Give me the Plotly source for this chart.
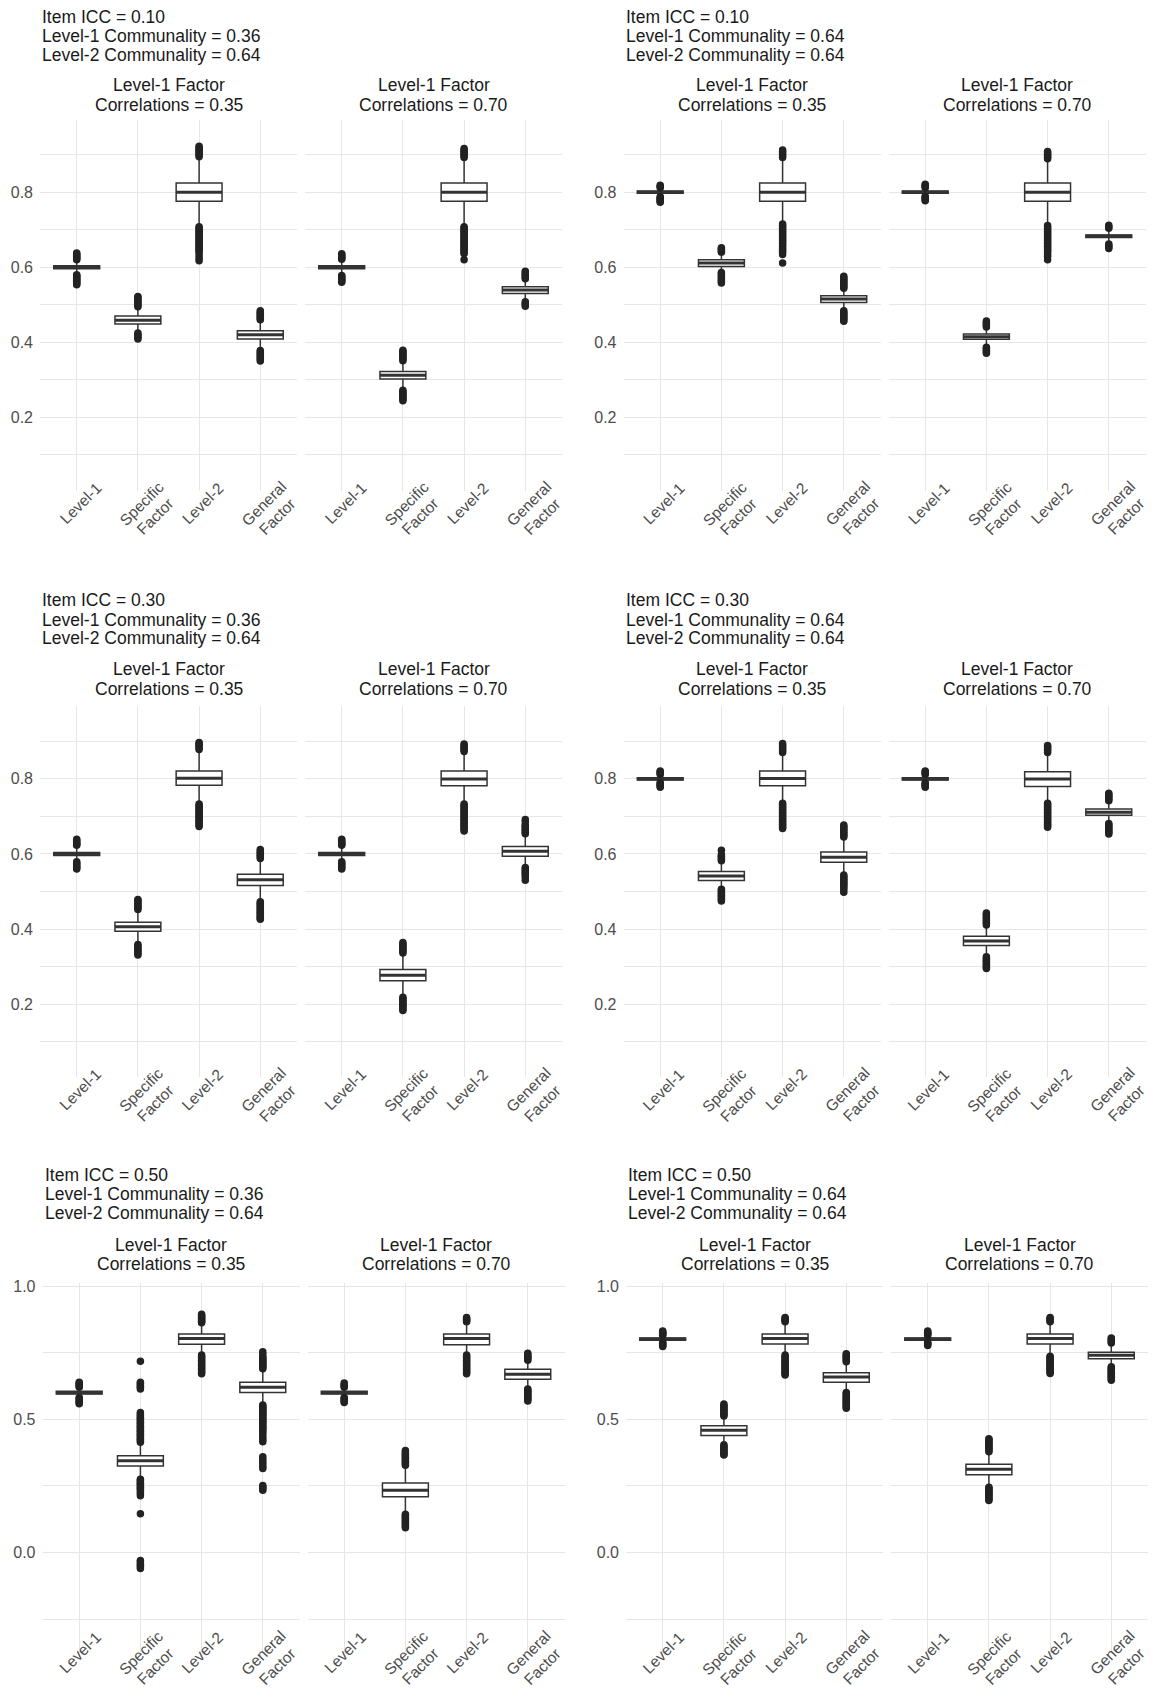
import plotly.graph_objects as go

# ---------------- data ----------------
CATEGORIES = ["Level-1", "Specific Factor", "Level-2", "General Factor"]
TICK_LABELS = ["Level-1", "Specific<br>Factor", "Level-2", "General<br>Factor"]

# six panels: (row, col) order A B / C D / E F
ITEM_ICC = ["0.10", "0.10", "0.30", "0.30", "0.50", "0.50"]
L1_COMMUNALITY = ["0.36", "0.64", "0.36", "0.64", "0.36", "0.64"]
L2_COMMUNALITY = ["0.64", "0.64", "0.64", "0.64", "0.64", "0.64"]
FACTOR_CORR = ["0.35", "0.70"]

Y_TICKS_ROW = [[0.2, 0.4, 0.6, 0.8], [0.2, 0.4, 0.6, 0.8], [0.0, 0.5, 1.0]]

# facet order: panel A corr .35, A .70, B .35, B .70, ... F .70
LOWER = [
    [0.585, 0.432, 0.712, 0.385], [0.585, 0.276, 0.712, 0.513],
    [0.791, 0.592, 0.720, 0.488], [0.791, 0.392, 0.715, 0.668],
    [0.585, 0.362, 0.737, 0.476], [0.585, 0.222, 0.737, 0.568],
    [0.791, 0.510, 0.738, 0.550], [0.791, 0.330, 0.738, 0.688],
    [0.588, 0.280, 0.745, 0.560], [0.588, 0.150, 0.745, 0.620],
    [0.793, 0.410, 0.745, 0.605], [0.793, 0.255, 0.745, 0.705],
]
Q1 = [
    [0.596, 0.449, 0.776, 0.409], [0.596, 0.302, 0.776, 0.530],
    [0.797, 0.602, 0.776, 0.506], [0.797, 0.408, 0.776, 0.679],
    [0.596, 0.394, 0.783, 0.516], [0.596, 0.262, 0.782, 0.594],
    [0.797, 0.529, 0.782, 0.578], [0.797, 0.356, 0.780, 0.703],
    [0.595, 0.325, 0.782, 0.601], [0.595, 0.209, 0.780, 0.650],
    [0.797, 0.439, 0.783, 0.639], [0.797, 0.292, 0.783, 0.727],
]
MEDIAN = [
    [0.600, 0.459, 0.800, 0.420], [0.600, 0.312, 0.800, 0.539],
    [0.800, 0.611, 0.800, 0.515], [0.800, 0.415, 0.800, 0.683],
    [0.600, 0.406, 0.802, 0.531], [0.600, 0.277, 0.800, 0.607],
    [0.800, 0.541, 0.801, 0.591], [0.800, 0.368, 0.800, 0.711],
    [0.600, 0.344, 0.803, 0.620], [0.600, 0.234, 0.803, 0.669],
    [0.801, 0.459, 0.803, 0.659], [0.801, 0.312, 0.803, 0.740],
]
Q3 = [
    [0.604, 0.470, 0.824, 0.431], [0.604, 0.322, 0.824, 0.548],
    [0.803, 0.620, 0.824, 0.524], [0.803, 0.422, 0.824, 0.686],
    [0.604, 0.418, 0.821, 0.546], [0.604, 0.292, 0.821, 0.620],
    [0.803, 0.553, 0.821, 0.605], [0.803, 0.381, 0.819, 0.720],
    [0.605, 0.363, 0.820, 0.639], [0.605, 0.261, 0.820, 0.688],
    [0.805, 0.476, 0.820, 0.675], [0.805, 0.331, 0.820, 0.752],
]
UPPER = [
    [0.616, 0.490, 0.890, 0.455], [0.616, 0.347, 0.888, 0.565],
    [0.809, 0.636, 0.888, 0.540], [0.809, 0.436, 0.886, 0.700],
    [0.616, 0.450, 0.875, 0.585], [0.616, 0.333, 0.870, 0.650],
    [0.809, 0.578, 0.867, 0.640], [0.809, 0.405, 0.866, 0.735],
    [0.612, 0.410, 0.858, 0.685], [0.612, 0.323, 0.860, 0.715],
    [0.810, 0.505, 0.858, 0.710], [0.810, 0.370, 0.860, 0.780],
]

OUTLIERS = [
    [  # A .35
        [.620, .623, .626, .629, .632, .635, .638, .580, .577, .574, .571, .568, .565, .562, .559, .556, .553],
        [.495, .499, .503, .507, .511, .515, .519, .522, .425, .421, .417, .413, .409],
        [.894, .898, .902, .906, .910, .914, .918, .922, .708, .704, .700, .696, .692, .688, .684, .680, .676,
         .672, .668, .664, .660, .656, .652, .648, .644, .640, .632, .624, .617],
        [.460, .464, .468, .472, .476, .480, .484, .378, .374, .370, .366, .362, .358, .354, .350],
    ],
    [  # A .70
        [.621, .624, .627, .630, .633, .636, .578, .575, .572, .569, .566, .563, .560],
        [.351, .355, .359, .363, .367, .371, .375, .379, .272, .268, .264, .260, .256, .252, .248, .244],
        [.892, .896, .900, .904, .908, .912, .916, .708, .704, .700, .696, .692, .688, .684, .680, .676, .672,
         .668, .664, .660, .656, .652, .648, .644, .640, .636, .620],
        [.569, .573, .577, .581, .585, .589, .508, .504, .500, .496],
    ],
    [  # B .35
        [.812, .815, .818, .788, .785, .782, .779, .776, .773],
        [.640, .643, .646, .649, .652, .586, .582, .578, .574, .570, .566, .562, .558],
        [.892, .896, .900, .904, .908, .912, .715, .711, .707, .703, .699, .695, .691, .687, .683, .679, .675,
         .671, .667, .663, .659, .655, .650, .645, .640, .634, .611],
        [.544, .548, .552, .556, .560, .564, .568, .572, .576, .484, .480, .476, .472, .468, .464, .460, .456],
    ],
    [  # B .70
        [.812, .815, .818, .821, .789, .786, .783, .780, .777],
        [.441, .445, .449, .453, .457, .387, .383, .379, .375, .371],
        [.889, .893, .897, .901, .905, .908, .711, .707, .703, .699, .695, .691, .687, .683, .679, .675, .671,
         .667, .663, .659, .655, .651, .647, .643, .639, .634, .629, .620],
        [.704, .708, .712, .662, .658, .654, .650],
    ],
    [  # C .35
        [.623, .626, .629, .632, .636, .639, .579, .575, .571, .567, .563, .560],
        [.452, .456, .460, .464, .468, .472, .476, .479, .359, .355, .351, .347, .343, .339, .335, .331],
        [.878, .882, .886, .890, .894, .897, .733, .729, .725, .721, .717, .713, .709, .705, .701, .697, .693,
         .689, .685, .681, .677, .673],
        [.588, .592, .596, .600, .604, .608, .612, .473, .469, .465, .461, .457, .453, .449, .445, .441, .437,
         .433, .429, .426],
    ],
    [  # C .70
        [.623, .626, .629, .632, .636, .639, .579, .575, .571, .567, .563, .560],
        [.336, .340, .344, .348, .352, .356, .360, .364, .218, .214, .210, .206, .202, .198, .194, .190, .186, .183],
        [.873, .877, .881, .885, .889, .893, .733, .729, .725, .721, .717, .713, .709, .705, .701, .697, .693,
         .689, .685, .681, .677, .673, .669, .665, .661],
        [.654, .658, .662, .666, .670, .674, .678, .686, .692, .564, .560, .556, .552, .548, .544, .538, .530],
    ],
    [  # D .35
        [.812, .815, .818, .821, .790, .787, .784, .781, .778],
        [.582, .586, .590, .594, .598, .610, .506, .502, .498, .494, .490, .486, .482, .478, .475],
        [.870, .874, .878, .882, .886, .890, .894, .735, .731, .727, .723, .719, .715, .711, .707, .703, .699,
         .695, .691, .687, .683, .679, .675, .671, .668],
        [.645, .649, .653, .657, .661, .665, .669, .673, .677, .544, .540, .536, .532, .528, .524, .520, .516,
         .511, .505, .498],
    ],
    [  # D .70
        [.812, .815, .818, .821, .790, .787, .784, .781, .778],
        [.411, .415, .419, .423, .427, .431, .435, .439, .443, .326, .322, .318, .314, .310, .306, .302, .298, .295],
        [.870, .874, .878, .882, .886, .889, .735, .731, .727, .723, .719, .715, .711, .707, .703, .699, .695,
         .691, .687, .683, .679, .675, .671],
        [.742, .746, .750, .754, .758, .762, .681, .677, .673, .669, .665, .661, .657, .653],
    ],
    [  # E .35
        [.620, .625, .630, .635, .639, .582, .577, .572, .567, .562, .558],
        [.414, .419, .424, .429, .434, .439, .444, .449, .454, .459, .464, .469, .474, .479, .484, .489, .494,
         .499, .504, .509, .514, .520, .525, .614, .619, .624, .629, .634, .639, .718, .275, .270, .265, .260,
         .255, .250, .245, .240, .235, .228, .221, .213, .145, -.030, -.036, -.042, -.048, -.054, -.060],
        [.862, .866, .870, .874, .878, .882, .886, .890, .894, .741, .736, .731, .726, .721, .716, .711, .706,
         .701, .696, .691, .686, .681, .676, .671],
        [.690, .695, .700, .705, .710, .715, .720, .725, .730, .735, .745, .754, .554, .549, .544, .539, .534,
         .529, .524, .519, .514, .509, .504, .499, .494, .489, .483, .476, .470, .465, .458, .450, .441, .432,
         .423, .416, .359, .350, .341, .332, .323, .315, .251, .246, .240, .234],
    ],
    [  # E .70
        [.620, .625, .630, .636, .582, .577, .572, .567, .563],
        [.327, .332, .337, .342, .347, .352, .357, .362, .367, .372, .377, .383, .143, .138, .133, .128, .123,
         .118, .113, .108, .103, .098, .093],
        [.866, .870, .874, .878, .882, .741, .736, .731, .726, .721, .716, .711, .706, .701, .696, .691, .686,
         .681, .676, .671],
        [.722, .727, .732, .737, .742, .748, .614, .609, .604, .599, .594, .589, .584, .579, .574, .569],
    ],
    [  # F .35
        [.815, .819, .823, .827, .831, .789, .785, .781, .777, .773],
        [.512, .517, .522, .527, .532, .537, .542, .547, .552, .557, .404, .399, .394, .389, .384, .379, .374,
         .369, .366],
        [.866, .870, .874, .878, .882, .741, .736, .731, .726, .721, .716, .711, .706, .701, .696, .691, .686,
         .681, .676, .671, .666],
        [.716, .721, .726, .731, .736, .741, .746, .601, .596, .591, .586, .581, .576, .571, .566, .561, .556,
         .551, .546, .541],
    ],
    [  # F .70
        [.815, .819, .823, .827, .831, .789, .785, .781, .777],
        [.378, .383, .388, .393, .398, .403, .408, .413, .418, .423, .427, .245, .240, .235, .230, .225, .220,
         .215, .210, .205, .200, .195],
        [.866, .870, .874, .878, .882, .737, .732, .727, .722, .717, .712, .707, .702, .697, .692, .687, .682,
         .677, .672],
        [.786, .791, .796, .801, .805, .697, .692, .687, .682, .677, .672, .667, .662, .657, .652, .647],
    ],
]

# ---------------- layout constants (page pixels) ----------------
PAGE_W, PAGE_H = 1156, 1697
BODY = 8                      # default body margin of the html page
W, H = PAGE_W - 2 * BODY, PAGE_H - 2 * BODY
FONT = "Liberation Sans, Arial, Helvetica, sans-serif"
GRID = "#E6E6E6"
INK = "#333333"
PANEL_W, GAP = 257.0, 8.0
COL_LEFT = [40.0, 623.5]
ROW_SHIFT = [0.0, 0.0, 2.5]
ROW_TOP = [115.0, 703.5, 1281.7]
ROW_BOTTOM = [487.0, 1075.5, 1651.7]
Y_RANGES = [[0.005, 0.993], [0.005, 0.993], [-0.373, 1.012]]
Y_MINOR = [0.1, 0.1, 0.25]
TITLE_Y = [[15.7, 35.0, 53.4], [600.7, 620.1, 638.7], [1176.6, 1196.0, 1215.5]]
STRIP_Y = [[83.8, 103.4], [669.9, 689.5], [1247.0, 1266.4]]
TEXT_NUDGE = -3.5
BOX_W = 0.75
XLAB_GAP = [12.5, 12.5, 1.0]
XLAB_SHIFT = [3.5, 3.5, 1.0]
XLAB_LINE = 13.4   # per-line offset along the rotated direction

fig = go.Figure()
layout = dict(
    width=W, height=H, autosize=False,
    margin=dict(l=0, r=0, t=0, b=0, pad=0),
    paper_bgcolor="white", plot_bgcolor="white",
    showlegend=False, font=dict(family=FONT),
)
annotations = []


def px_x(v):
    return (v - BODY) / W


def px_y(v):
    return 1 - (v - BODY) / H


for k in range(12):
    p, c = divmod(k, 2)
    row, col = divmod(p, 2)
    left = COL_LEFT[col] + ROW_SHIFT[row] + c * (PANEL_W + GAP)
    right = left + PANEL_W
    top, bottom = ROW_TOP[row], ROW_BOTTOM[row]
    xa = "x" if k == 0 else f"x{k + 1}"
    ya = "y" if k == 0 else f"y{k + 1}"
    xs = list(range(len(CATEGORIES)))

    fig.add_trace(go.Box(
        x=xs, q1=Q1[k], median=MEDIAN[k], q3=Q3[k],
        lowerfence=LOWER[k], upperfence=UPPER[k],
        orientation="v", width=BOX_W, whiskerwidth=0,
        fillcolor="white", line=dict(color=INK, width=1.5),
        boxpoints=False, hoverinfo="skip", xaxis=xa, yaxis=ya,
    ))
    # thicker median bar, as ggplot draws it
    mx, my = [], []
    for i, m in enumerate(MEDIAN[k]):
        mx += [i - BOX_W / 2, i + BOX_W / 2, None]
        my += [m, m, None]
    fig.add_trace(go.Scatter(x=mx, y=my, mode="lines",
                             line=dict(color=INK, width=3.0),
                             hoverinfo="skip", xaxis=xa, yaxis=ya))
    ox, oy = [], []
    for i, vals in enumerate(OUTLIERS[k]):
        ox += [i] * len(vals)
        oy += vals
    fig.add_trace(go.Scatter(x=ox, y=oy, mode="markers",
                             marker=dict(color="#222222", size=7.5, line=dict(width=0)),
                             hoverinfo="skip", xaxis=xa, yaxis=ya))

    xkey = "xaxis" if k == 0 else f"xaxis{k + 1}"
    ykey = "yaxis" if k == 0 else f"yaxis{k + 1}"
    layout[xkey] = dict(
        domain=[px_x(left), px_x(right)], anchor=ya,
        range=[-0.6, len(CATEGORIES) - 0.4],
        tickmode="array", tickvals=xs, showticklabels=False,
        ticks="", showline=False, zeroline=False,
        showgrid=True, gridcolor=GRID, gridwidth=1.2,
        fixedrange=True,
    )
    layout[ykey] = dict(
        domain=[px_y(bottom), px_y(top)], anchor=xa,
        range=Y_RANGES[row],
        tickmode="array", tickvals=Y_TICKS_ROW[row],
        ticktext=[f"{v:.1f}" for v in Y_TICKS_ROW[row]],
        showticklabels=(c == 0), ticks="", ticklabelstandoff=6,
        showline=False, zeroline=False,
        showgrid=True, gridcolor=GRID, gridwidth=1.2,
        minor=dict(dtick=Y_MINOR[row], tick0=0, showgrid=True,
                   gridcolor=GRID, gridwidth=0.8),
        tickfont=dict(size=16, color="#4D4D4D", family=FONT),
        fixedrange=True,
    )
    # rotated category labels (one annotation per text line, centred lines)
    for i, lab in enumerate(TICK_LABELS):
        for j, part in enumerate(lab.split("<br>")):
            off = j * XLAB_LINE
            annotations.append(dict(
                text=part, x=i, xref=xa,
                y=px_y(bottom + XLAB_GAP[row] + off), yref="paper",
                xshift=XLAB_SHIFT[row] + off, textangle=-45,
                xanchor="center", yanchor="middle", showarrow=False,
                font=dict(size=15.5, color="#4D4D4D", family=FONT),
            ))
    # strip titles
    for line_text, yy in zip(["Level-1 Factor", f"Correlations = {FACTOR_CORR[c]}"], STRIP_Y[row]):
        annotations.append(dict(
            text=line_text, x=px_x((left + right) / 2), y=px_y(yy + TEXT_NUDGE),
            xref="paper", yref="paper", xanchor="center", yanchor="middle",
            showarrow=False, font=dict(size=17.5, color="#1A1A1A", family=FONT),
        ))
    # panel titles
    if c == 0:
        lines = [f"Item ICC = {ITEM_ICC[p]}",
                 f"Level-1 Communality = {L1_COMMUNALITY[p]}",
                 f"Level-2 Communality = {L2_COMMUNALITY[p]}"]
        for line_text, yy in zip(lines, TITLE_Y[row]):
            annotations.append(dict(
                text=line_text, x=px_x(left), y=px_y(yy + TEXT_NUDGE),
                xref="paper", yref="paper", xanchor="left", yanchor="middle",
                showarrow=False, font=dict(size=17.5, color="#1A1A1A", family=FONT),
            ))

layout["annotations"] = annotations
fig.update_layout(**layout)
fig.write_html("out.html")
